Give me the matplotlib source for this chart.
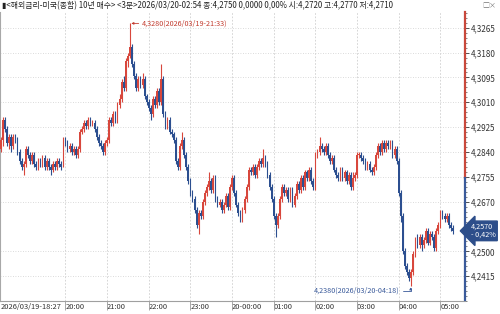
import numpy as np
import matplotlib
matplotlib.use("Agg")
import matplotlib.pyplot as plt
from matplotlib.transforms import blended_transform_factory

plt.rcParams['font.family'] = ['Noto Sans CJK KR', 'DejaVu Sans']

# 3-minute candles, 2026/03/19-18:27 .. 2026/03/20-05:18
first_open = 4.285
closes = [
    4.288, 4.295, 4.292, 4.287, 4.289, 4.286, 4.289, 4.288, 4.284, 4.281,
    4.279, 4.280, 4.285, 4.283, 4.281, 4.283, 4.280, 4.279, 4.281, 4.280,
    4.282, 4.279, 4.281, 4.279, 4.278, 4.280, 4.279, 4.281, 4.280, 4.279,
    4.288, 4.287, 4.285, 4.286, 4.284, 4.285, 4.283, 4.285, 4.291, 4.292,
    4.294, 4.293, 4.295, 4.294, 4.294, 4.292, 4.289, 4.287, 4.286, 4.284,
    4.287, 4.288, 4.295, 4.294, 4.297, 4.295, 4.300, 4.302, 4.308, 4.306,
    4.315, 4.317, 4.320, 4.314, 4.310, 4.306, 4.309, 4.307, 4.309, 4.303,
    4.301, 4.299, 4.297, 4.302, 4.300, 4.305, 4.301, 4.309, 4.297, 4.293,
    4.295, 4.291, 4.290, 4.288, 4.281, 4.279, 4.286, 4.288, 4.283, 4.279,
    4.274, 4.270, 4.268, 4.264, 4.259, 4.263, 4.262, 4.267, 4.270, 4.272,
    4.274, 4.271, 4.275, 4.268, 4.266, 4.267, 4.264, 4.266, 4.269, 4.265,
    4.272, 4.275, 4.270, 4.266, 4.263, 4.261, 4.264, 4.268, 4.272, 4.278,
    4.277, 4.279, 4.276, 4.279, 4.281, 4.280, 4.282, 4.280, 4.276, 4.272,
    4.268, 4.262, 4.259, 4.262, 4.268, 4.272, 4.270, 4.271, 4.268, 4.271,
    4.266, 4.269, 4.273, 4.271, 4.275, 4.272, 4.277, 4.275, 4.278, 4.274,
    4.272, 4.283, 4.284, 4.286, 4.285, 4.284, 4.286, 4.283, 4.281, 4.282,
    4.278, 4.276, 4.275, 4.278, 4.275, 4.277, 4.274, 4.276, 4.272, 4.275,
    4.276, 4.283, 4.283, 4.282, 4.281, 4.279, 4.280, 4.278, 4.277, 4.279,
    4.283, 4.286, 4.284, 4.287, 4.285, 4.287, 4.286, 4.287, 4.283, 4.285,
    4.281, 4.270, 4.262, 4.250, 4.245, 4.243, 4.241, 4.243, 4.249, 4.254,
    4.252, 4.255, 4.252, 4.254, 4.257, 4.253, 4.256, 4.255, 4.251, 4.257,
    4.259, 4.263, 4.262, 4.261, 4.262, 4.259, 4.258, 4.257,
]
highs = [
    4.289, 4.296, 4.296, 4.293, 4.290, 4.290, 4.290, 4.290, 4.289, 4.285,
    4.282, 4.281, 4.286, 4.286, 4.284, 4.284, 4.284, 4.281, 4.282, 4.282,
    4.283, 4.283, 4.282, 4.282, 4.280, 4.281, 4.281, 4.282, 4.282, 4.281,
    4.289, 4.289, 4.288, 4.287, 4.287, 4.286, 4.286, 4.286, 4.292, 4.293,
    4.295, 4.295, 4.296, 4.296, 4.295, 4.295, 4.293, 4.290, 4.288, 4.287,
    4.288, 4.289, 4.296, 4.296, 4.298, 4.298, 4.301, 4.304, 4.309, 4.310,
    4.316, 4.318, 4.328, 4.321, 4.315, 4.311, 4.310, 4.310, 4.311, 4.310,
    4.304, 4.302, 4.300, 4.303, 4.303, 4.306, 4.306, 4.314, 4.310, 4.298,
    4.296, 4.296, 4.292, 4.291, 4.289, 4.282, 4.287, 4.291, 4.289, 4.284,
    4.280, 4.275, 4.271, 4.269, 4.265, 4.264, 4.264, 4.268, 4.271, 4.273,
    4.277, 4.275, 4.276, 4.276, 4.269, 4.268, 4.268, 4.267, 4.270, 4.270,
    4.273, 4.276, 4.276, 4.271, 4.267, 4.264, 4.265, 4.269, 4.273, 4.279,
    4.279, 4.280, 4.280, 4.280, 4.282, 4.282, 4.285, 4.283, 4.281, 4.277,
    4.273, 4.269, 4.263, 4.263, 4.269, 4.273, 4.273, 4.272, 4.272, 4.272,
    4.272, 4.270, 4.274, 4.274, 4.276, 4.276, 4.278, 4.278, 4.279, 4.279,
    4.275, 4.284, 4.285, 4.289, 4.287, 4.286, 4.287, 4.287, 4.284, 4.283,
    4.283, 4.279, 4.277, 4.279, 4.279, 4.278, 4.278, 4.277, 4.277, 4.277,
    4.277, 4.284, 4.284, 4.284, 4.283, 4.282, 4.281, 4.281, 4.279, 4.280,
    4.284, 4.287, 4.287, 4.288, 4.288, 4.288, 4.288, 4.288, 4.288, 4.286,
    4.286, 4.282, 4.271, 4.263, 4.251, 4.246, 4.244, 4.244, 4.250, 4.255,
    4.256, 4.256, 4.256, 4.255, 4.258, 4.258, 4.257, 4.257, 4.256, 4.258,
    4.260, 4.264, 4.264, 4.263, 4.263, 4.263, 4.260, 4.259,
]
lows = [
    4.284, 4.286, 4.291, 4.286, 4.285, 4.284, 4.285, 4.287, 4.283, 4.280,
    4.278, 4.276, 4.279, 4.282, 4.280, 4.280, 4.279, 4.278, 4.278, 4.279,
    4.279, 4.278, 4.278, 4.278, 4.276, 4.277, 4.278, 4.278, 4.279, 4.278,
    4.279, 4.286, 4.284, 4.284, 4.283, 4.283, 4.282, 4.282, 4.284, 4.290,
    4.291, 4.292, 4.292, 4.293, 4.293, 4.291, 4.288, 4.286, 4.285, 4.283,
    4.283, 4.286, 4.287, 4.293, 4.293, 4.294, 4.294, 4.299, 4.301, 4.305,
    4.305, 4.313, 4.316, 4.313, 4.309, 4.305, 4.305, 4.306, 4.306, 4.302,
    4.300, 4.298, 4.295, 4.296, 4.299, 4.299, 4.300, 4.300, 4.296, 4.292,
    4.292, 4.290, 4.289, 4.287, 4.280, 4.278, 4.278, 4.285, 4.282, 4.278,
    4.273, 4.269, 4.267, 4.263, 4.258, 4.256, 4.261, 4.261, 4.266, 4.269,
    4.271, 4.270, 4.270, 4.267, 4.265, 4.265, 4.263, 4.263, 4.265, 4.264,
    4.264, 4.271, 4.269, 4.265, 4.262, 4.260, 4.260, 4.263, 4.267, 4.271,
    4.276, 4.276, 4.275, 4.275, 4.278, 4.279, 4.279, 4.279, 4.275, 4.271,
    4.267, 4.261, 4.255, 4.258, 4.261, 4.267, 4.269, 4.269, 4.267, 4.267,
    4.265, 4.265, 4.268, 4.270, 4.270, 4.271, 4.271, 4.274, 4.274, 4.273,
    4.271, 4.271, 4.282, 4.283, 4.284, 4.283, 4.283, 4.282, 4.280, 4.280,
    4.277, 4.275, 4.274, 4.274, 4.274, 4.274, 4.273, 4.273, 4.271, 4.271,
    4.274, 4.275, 4.282, 4.281, 4.280, 4.278, 4.278, 4.277, 4.276, 4.276,
    4.278, 4.282, 4.283, 4.283, 4.284, 4.284, 4.285, 4.285, 4.282, 4.282,
    4.280, 4.269, 4.260, 4.249, 4.244, 4.242, 4.240, 4.238, 4.242, 4.248,
    4.251, 4.251, 4.250, 4.251, 4.253, 4.252, 4.252, 4.254, 4.250, 4.250,
    4.256, 4.258, 4.261, 4.260, 4.260, 4.258, 4.257, 4.256,
]
opens = [first_open] + closes[:-1]

prev_close = 4.2750
hi_label = "4,3280(2026/03/19-21:33)"
lo_label = "4,2380(2026/03/20-04:18)"

time_ticks = [0, 31, 51, 71, 91, 111, 131, 151, 171, 191, 211]
time_labels = ["2026/03/19-18:27", "20:00", "21:00", "22:00", "23:00",
               "20-00:00", "01:00", "02:00", "03:00", "04:00", "05:00"]
y_ticks = [4.2415, 4.2500, 4.2670, 4.2755, 4.2840, 4.2925,
           4.3010, 4.3095, 4.3180, 4.3265]

header = ("\u25ae<해외금리-미국(종합) 10년 매수> <3분>2026/03/20-02:54 "
          "종:4,2750 0,0000 0,00% 시:4,2720 고:4,2770 저:4,2710")

up_col = '#d8473c'
dn_col = '#2c4f90'
grid_col = '#cfcfcf'

o = np.array(opens)
c = np.array(closes)
h = np.array(highs)
l = np.array(lows)
x = np.arange(len(c))
col = np.where(c >= o, up_col, dn_col)

fig = plt.figure(figsize=(5.0, 3.14), dpi=100)
ax = fig.add_axes([0.0, 1 - 301 / 314, 465 / 500, 289 / 314])

ylo, yhi = 4.2332, 4.3319
ax.set_xlim(-0.4, 222.8)
ax.set_ylim(ylo, yhi)

# grid
for t in time_ticks[1:]:
    ax.axvline(t, color=grid_col, lw=0.6, ls=(0, (2, 2)), zorder=0)
for v in y_ticks:
    ax.axhline(v, color=grid_col, lw=0.6, ls=(0, (1, 2)), zorder=0)

# candles
ax.vlines(x, l, h, colors=col, lw=0.8, zorder=2)
body = np.maximum(np.abs(c - o), 0.0004)
ax.bar(x, body, bottom=np.minimum(o, c), width=0.8, color=col,
       linewidth=0, zorder=3)

# spines / axes
for s in ['top', 'right']:
    ax.spines[s].set_visible(False)
ax.spines['left'].set_color('#a8a8a8')
ax.spines['bottom'].set_color('#a0a0a0')
ax.spines['left'].set_linewidth(0.8)
ax.spines['bottom'].set_linewidth(0.8)

tr = blended_transform_factory(ax.transAxes, ax.transData)
ax.plot([1, 1], [prev_close, yhi], color='#c9483b', lw=1.6,
        transform=tr, clip_on=False, zorder=5)
ax.plot([1, 1], [ylo, prev_close], color='#3a5a9a', lw=1.6,
        transform=tr, clip_on=False, zorder=5)

ax.yaxis.tick_right()
ax.set_yticks(y_ticks)
ax.set_yticklabels([f"{v:.4f}".replace('.', ',') for v in y_ticks])
ax.set_yticks(np.arange(4.2330, 4.3320, 0.0017), minor=True)
ax.tick_params(axis='y', which='major', length=3, width=0.6, pad=1,
               colors='#333333', labelsize=5.8)
ax.tick_params(axis='y', which='minor', length=1.5, width=0.5,
               colors='#555555')
ax.set_xticks(time_ticks)
ax.set_xticklabels(time_labels, ha='left')
ax.tick_params(axis='x', length=0, pad=1.5, labelsize=5.4,
               labelcolor='#333333')
# small tick marks hanging below the time axis
trx = blended_transform_factory(ax.transData, ax.transAxes)
ax.vlines(time_ticks[1:], -9 / 289, 0, colors='#9a9a9a', lw=0.6,
          transform=trx, clip_on=False)

# high / low annotations
i_hi = int(np.argmax(h))
i_lo = int(np.argmin(l))
ax.annotate(hi_label, xy=(i_hi + 0.6, h[i_hi]), xytext=(i_hi + 5.5, h[i_hi]),
            color='#c23b2e', fontsize=5.2, va='center', ha='left',
            arrowprops=dict(arrowstyle='-|>,head_length=0.25,head_width=0.12',
                            color='#c23b2e', lw=0.6, shrinkA=0, shrinkB=0))
ax.annotate(lo_label, xy=(i_lo - 0.3, l[i_lo] - 0.0003),
            xytext=(i_lo - 5.5, l[i_lo] - 0.0016),
            color='#3a5a9a', fontsize=5.2, va='center', ha='right',
            arrowprops=dict(arrowstyle='-|>,head_length=0.25,head_width=0.12',
                            color='#3a5a9a', lw=0.6, shrinkA=0, shrinkB=0,
                            connectionstyle='angle,angleA=0,angleB=90,rad=0'))

# last price box
last = closes[-1]
chg = (last - prev_close) / prev_close * 100
ax.text(1.012, last, f"{last:.4f}".replace('.', ',') + "\n- "
        + f"{abs(chg):.2f}%".replace('.', ','),
        transform=tr, color='white', fontsize=5.2, va='center', ha='left',
        linespacing=1.0, zorder=6,
        bbox=dict(boxstyle='larrow,pad=0.25', fc='#2d4e8a', ec='#2d4e8a'))

fig.text(0.004, 1 - 6 / 314, header, fontsize=5.7, color='#222222',
         va='center', ha='left')
fig.text(0.992, 1 - 6 / 314, "\u25a1\u00d7", fontsize=5, color='#777777',
         va='center', ha='right')

fig.savefig("out.png", dpi=100)
